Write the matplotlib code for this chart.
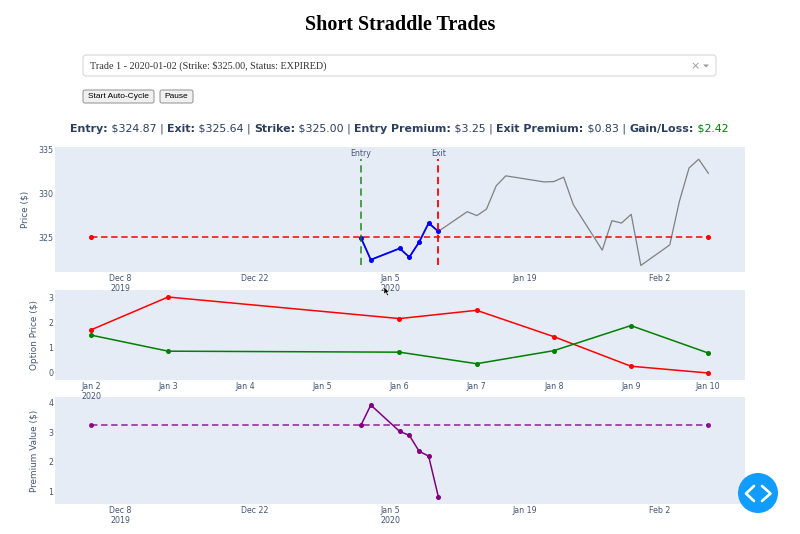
import pandas as pd
import matplotlib as mpl
mpl.use('Agg')
import matplotlib.pyplot as plt
from matplotlib.patches import Circle, FancyBboxPatch, Polygon

# ----------------
# Data
# ----------------
price_dates = ['2020-01-02', '2020-01-03', '2020-01-06', '2020-01-07', '2020-01-08', '2020-01-09', '2020-01-10',
               '2020-01-13', '2020-01-14', '2020-01-15', '2020-01-16', '2020-01-17', '2020-01-21', '2020-01-22',
               '2020-01-23', '2020-01-24', '2020-01-27', '2020-01-28', '2020-01-29', '2020-01-30', '2020-01-31',
               '2020-02-03', '2020-02-04', '2020-02-05', '2020-02-06', '2020-02-07']
price_values = [324.87, 322.4, 323.7, 322.7, 324.4, 326.6, 325.64, 327.9, 327.45, 328.2, 330.85, 332.0, 331.3,
                331.35, 331.85, 328.7, 323.5, 326.87, 326.6, 327.6, 321.75, 324.1, 329.1, 332.9, 333.9, 332.3]
trade_dates = ['2020-01-02', '2020-01-03', '2020-01-06', '2020-01-07', '2020-01-08', '2020-01-09', '2020-01-10']
trade_prices = [324.87, 322.4, 323.7, 322.7, 324.4, 326.6, 325.64]
put_prices = [1.72, 3.03, 2.17, 2.50, 1.45, 0.27, 0.0]
call_prices = [1.51, 0.87, 0.83, 0.37, 0.89, 1.89, 0.80]
premium_values = [3.24, 3.91, 3.02, 2.89, 2.36, 2.19, 0.83]
span_dates = ['2019-12-05', '2020-02-07']
strike = 325.0
entry_premium = 3.25
vline_low, vline_high = 321.75, 333.9

wide_ticks = ['2019-12-08', '2019-12-22', '2020-01-05', '2020-01-19', '2020-02-02']
wide_labels = ['Dec 8\n2019', 'Dec 22', 'Jan 5\n2020', 'Jan 19', 'Feb 2']
day_labels = ['Jan 2\n2020', 'Jan 3', 'Jan 4', 'Jan 5', 'Jan 6', 'Jan 7', 'Jan 8', 'Jan 9', 'Jan 10']
day_ticks = pd.date_range('2020-01-02', '2020-01-10')

stats = [('Entry:', True, None), (' $324.87 | ', False, None), ('Exit:', True, None), (' $325.64 | ', False, None),
         ('Strike:', True, None), (' $325.00 | ', False, None), ('Entry Premium:', True, None),
         (' $3.25 | ', False, None), ('Exit Premium:', True, None), (' $0.83 | ', False, None),
         ('Gain/Loss:', True, None), (' $2.42', False, 'green')]

W, H = 800, 534
INK = '#2a3f5f'
TICK_INK = '#445675'
BG = '#e5ecf6'

plt.rcParams['font.family'] = 'DejaVu Sans'
fig = plt.figure(figsize=(W / 100, H / 100), dpi=100)


def make_axes(top, bottom, order):
    ax = fig.add_axes([55 / W, 1 - bottom / H, 690 / W, (bottom - top) / H], zorder=order)
    ax.set_facecolor(BG)
    for s in ax.spines.values():
        s.set_visible(False)
    ax.tick_params(length=0, labelsize=5.7, labelcolor=TICK_INK, pad=1.2)
    return ax


def finish_axes(ax):
    for lab in ax.get_xticklabels():
        lab.set_linespacing(1.13)


def strike_style(ax, y, color, alpha=1.0):
    ax.plot(pd.to_datetime(span_dates), [y, y], color=color, lw=1.1, dashes=(4.2, 2.4), marker='o', ms=2.6, alpha=alpha)


# Part One: price
ax1 = make_axes(147, 272, 3)
dates = pd.to_datetime(price_dates)
trade = pd.to_datetime(trade_dates)
ax1.plot(dates, price_values, color='gray', lw=0.9)
strike_style(ax1, strike, 'red')
ax1.plot(trade, trade_prices, color='blue', lw=1.3, marker='o', ms=2.6)
ax1.plot([trade[0], trade[0]], [vline_low, vline_high], color='green', lw=1.3, dashes=(4, 2.4), alpha=0.75)
ax1.plot([trade[-1], trade[-1]], [vline_low, vline_high], color='red', lw=1.3, dashes=(4, 2.4))
ax1.text(trade[0], 334.05, 'Entry', color=TICK_INK, fontsize=5.7, ha='center', va='bottom')
ax1.text(trade[-1], 334.05, 'Exit', color=TICK_INK, fontsize=5.7, ha='center', va='bottom')
ax1.set_xlim(pd.Timestamp('2020-01-05') - pd.Timedelta(days=34.74), pd.Timestamp('2020-01-05') + pd.Timedelta(days=36.8))
ax1.set_ylim(321.0, 335.3)
ax1.set_yticks([325, 330, 335])
ax1.set_xticks(pd.to_datetime(wide_ticks), wide_labels)
ax1.set_ylabel('Price ($)', color=TICK_INK, fontsize=6.4)
ax1.yaxis.set_label_coords(-26 / 690, 0.5)
finish_axes(ax1)

# Part Two: option prices
ax2 = make_axes(290, 380, 2)
ax2.plot(trade, put_prices, color='red', lw=1.1, marker='o', ms=2.6)
ax2.plot(trade, call_prices, color='green', lw=1.1, marker='o', ms=2.6)
ax2.set_xlim(pd.Timestamp('2020-01-02') - pd.Timedelta(days=0.467), pd.Timestamp('2020-01-10') + pd.Timedelta(days=0.48))
ax2.set_ylim(-0.28, 3.31)
ax2.set_yticks([0, 1, 2, 3])
ax2.set_xticks(day_ticks, day_labels)
ax2.set_ylabel('Option Price ($)', color=TICK_INK, fontsize=6.4)
ax2.yaxis.set_label_coords(-16.5 / 690, 0.5)
finish_axes(ax2)

# Part Three: premium
ax3 = make_axes(397, 504, 1)
strike_style(ax3, entry_premium, 'purple', alpha=0.85)
ax3.plot(trade, premium_values, color='purple', lw=1.1, marker='o', ms=2.6)
ax3.set_xlim(ax1.get_xlim())
ax3.set_ylim(0.58, 4.18)
ax3.set_yticks([1, 2, 3, 4])
ax3.set_xticks(pd.to_datetime(wide_ticks), wide_labels)
ax3.set_ylabel('Premium Value ($)', color=TICK_INK, fontsize=6.4)
ax3.yaxis.set_label_coords(-16.5 / 690, 0.5)
finish_axes(ax3)

# ----------------
# Page furniture, in pixels
# ----------------
page = fig.add_axes([0, 0, 1, 1], zorder=5)
page.set_xlim(0, W)
page.set_ylim(H, 0)
page.axis('off')

page.text(400, 25, 'Short Straddle Trades', family='Liberation Serif', weight='bold', fontsize=14.5,
          ha='center', va='center', color='black')

page.add_patch(FancyBboxPatch((83, 55), 633, 21, boxstyle='round,pad=0,rounding_size=3', fc='white', ec='#d9d9d9', lw=0.8))
page.text(90, 65.5, 'Trade 1 - 2020-01-02 (Strike: $325.00, Status: EXPIRED)', family='Liberation Serif',
          fontsize=7.25, color='#333333', va='center')
page.text(695, 66, '×', fontsize=8, color='#999999', ha='center', va='center')
page.add_patch(Polygon([(703, 64.5), (709, 64.5), (706, 67.5)], fc='#999999', ec='none'))

for x0, wid, label in [(83, 71, 'Start Auto-Cycle'), (160, 33, 'Pause')]:
    page.add_patch(FancyBboxPatch((x0, 90), wid, 13, boxstyle='round,pad=0,rounding_size=2', fc='#f0f0f0', ec='#8f8f8f', lw=0.7))
    page.text(x0 + wid / 2, 97, label, family='Liberation Sans', fontsize=6.0, color='black', ha='center', va='center')

renderer = fig.canvas.get_renderer()
x = 70
for piece, bold, color in stats:
    # the last piece has no bar in it and rounds differently, so nudge it
    y = 131.6 if color else 132
    t = page.text(x, y, piece.replace(' ', '\u00a0'), fontsize=7.95, weight='bold' if bold else 'normal',
                  color=color or INK, va='baseline')
    x += t.get_window_extent(renderer).width

page.add_patch(Circle((758, 493), 20, fc='#119dff', ec='none'))
page.plot([754, 746, 754], [486, 493.5, 501], color='white', lw=1.9, solid_capstyle='round')
page.plot([762, 770.5, 762], [486, 493.5, 501], color='white', lw=1.9, solid_capstyle='round')

# mouse pointer
page.add_patch(Polygon([(384, 287), (384, 294), (385.8, 292.6), (387.2, 295.6), (388.4, 295), (387, 292.2), (389, 292)],
                       fc='black', ec='white', lw=0.3))

fig.savefig('out.png', dpi=100)
